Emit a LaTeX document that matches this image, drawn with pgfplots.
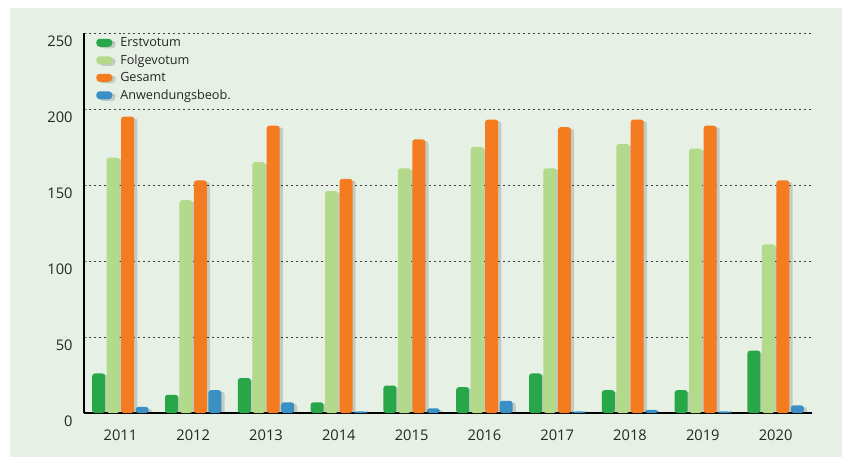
\documentclass[border=0pt]{standalone}
\usepackage{pgfplots}
\pgfplotsset{compat=1.18}
\usepackage{fontspec}
\setmainfont{Open Sans}

\definecolor{bgGreen}{RGB}{230,240,228}
\definecolor{cErst}{RGB}{40,167,72}
\definecolor{cFolge}{RGB}{179,217,139}
\definecolor{cGesamt}{RGB}{244,123,32}
\definecolor{cAnw}{RGB}{58,143,197}

\pgfplotsset{
  pill/.style={legend image code/.code={%
      \path (0pt,0pt) -- (16pt,0pt);
      \fill[##1, rounded corners=2.6pt] (0pt,-3pt) rectangle (12pt,3pt);}},
  barshadow/.style={preaction={fill=black, opacity=0.15,
      transform canvas={xshift=2.4pt, yshift=-1.2pt}}},
}

\begin{document}
\begin{tikzpicture}
\fill[white] (-63pt,-33pt) rectangle (571.5pt,309.75pt);
\fill[bgGreen] (-55.5pt,-33pt) rectangle (568.5pt,303.75pt);
\begin{axis}[
  at={(0,0)}, anchor=south west,
  scale only axis, width=546pt, height=285pt,
  ybar=1.1pt, bar width=9.75pt,
  xmin=-0.5, xmax=9.5, ymin=0, ymax=250,
  xtick=data,
  xticklabels={2011,2012,2013,2014,2015,2016,2017,2018,2019,2020},
  ytick={0,50,...,250},
  axis lines*=left,
  axis line style={line width=1.1pt, black},
  ymajorgrids,
  major grid style={dash pattern=on 1.5pt off 2.2pt, black!75, line width=0.6pt},
  x tick style={draw=none},
  major tick length=2pt, tick align=inside,
  /pgf/number format/assume math mode=true,
  ticklabel style={font=\fontsize{11}{13}\selectfont, text=black!85},
  yticklabel style={yshift=-6pt, xshift=-5pt},
  xticklabel style={yshift=-9pt},
  legend style={at={(0,1)}, anchor=north west, xshift=6pt, yshift=1pt,
    draw=none, fill=none, row sep=0.6pt,
    font=\fontsize{9.5}{11}\selectfont, text=black!85},
  legend cell align=left,
]
\addplot[pill, barshadow, fill=cErst, draw=none, rounded corners=2pt] coordinates {
  (0,26) (1,12) (2,23) (3,7) (4,18) (5,17) (6,26) (7,15) (8,15) (9,41)};
\addplot[pill, barshadow, fill=cFolge, draw=none, rounded corners=2pt] coordinates {
  (0,168) (1,140) (2,165) (3,146) (4,161) (5,175) (6,161) (7,177) (8,174) (9,111)};
\addplot[pill, barshadow, fill=cGesamt, draw=none, rounded corners=2pt] coordinates {
  (0,195) (1,153) (2,189) (3,154) (4,180) (5,193) (6,188) (7,193) (8,189) (9,153)};
\addplot[pill, barshadow, fill=cAnw, draw=none, rounded corners=2pt] coordinates {
  (0,4) (1,15) (2,7) (3,1) (4,3) (5,8) (6,1) (7,2) (8,1) (9,5)};
\legend{Erstvotum, Folgevotum, Gesamt, Anwendungsbeob.}
\end{axis}
\end{tikzpicture}
\end{document}
